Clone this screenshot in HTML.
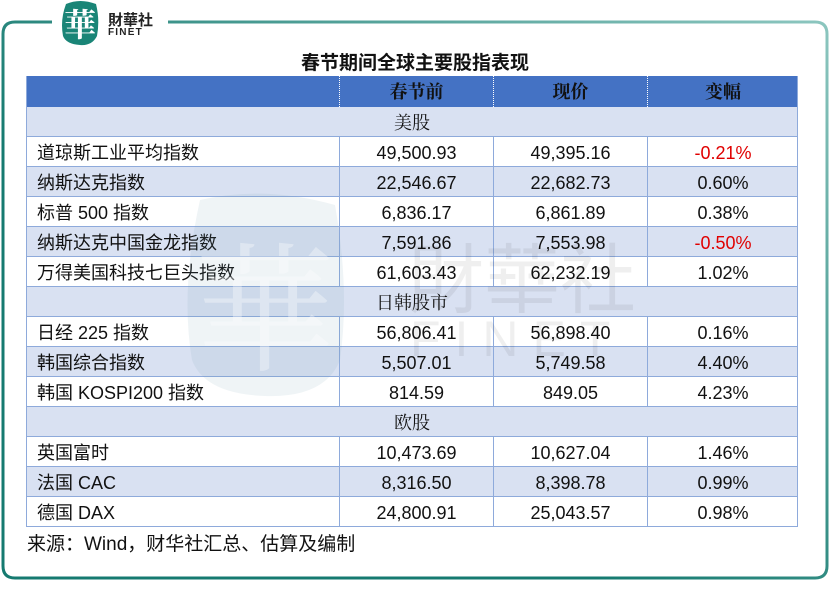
<!DOCTYPE html>
<html><head><meta charset="utf-8">
<style>
*{margin:0;padding:0;box-sizing:border-box}
body{width:830px;height:601px;background:#fff;position:relative;overflow:hidden;font-family:"Liberation Sans","Noto Sans CJK SC",sans-serif;color:#111}
.abs{position:absolute}
.title{left:0;width:830px;top:52px;text-align:center;font-size:19px;font-weight:bold;font-family:"Liberation Sans","Noto Sans CJK SC",sans-serif;line-height:24px}
.row{position:absolute;left:26px;width:772px;height:30px;border-bottom:1px solid #8eaadb}
.c{position:absolute;top:0;height:30px;line-height:32px;font-size:18px;text-align:center}
.c1{left:0;width:313px;text-align:left;padding-left:11px}
.c2{left:313px;width:154px;border-left:1px solid #8eaadb}
.c3{left:467px;width:154px;border-left:1px solid #8eaadb}
.c4{left:621px;width:151px;border-left:1px solid #8eaadb}
.blue{background:#d9e1f2}
.sec{text-align:center;font-family:"Liberation Serif","Noto Serif CJK SC",serif;font-size:18px;line-height:32px}
.red{color:#e00000}
</style></head><body>
<svg class="abs" style="left:0;top:0" width="830" height="601">
<defs>
<linearGradient id="g" x1="0.35" y1="0.6" x2="1" y2="0">
<stop offset="0" stop-color="#157a70"/>
<stop offset="1" stop-color="#8cc6bf"/>
</linearGradient>
</defs>
<path d="M52 22 L15 22 Q3 22 3 34 L3 566 Q3 578 15 578 L815 578 Q827 578 827 566 L827 34 Q827 22 815 22 L168 22" fill="none" stroke="url(#g)" stroke-width="3"/>
<path d="M66 4 Q80 -2 96 4 Q100 20 97 36 Q92 46 80 45 Q66 44 63 36 Q60 20 66 4Z" fill="#1a8577"/>
<text x="80" y="36" text-anchor="middle" font-family="Noto Serif CJK SC,serif" font-size="32" fill="#fff" font-weight="bold">華</text>
<text x="108" y="25" font-family="Noto Sans CJK TC,sans-serif" font-size="15" font-weight="bold" fill="#222">財華社</text>
<text x="108" y="35" font-family="Liberation Sans,sans-serif" font-size="10" font-weight="bold" fill="#222" letter-spacing="1.2">FINET</text>
</svg>

<div class="abs title">春节期间全球主要股指表现</div>

<div class="row" style="top:76px;height:31px;background:#4472c4;border-bottom:none">
<div class="c c1"></div>
<div class="c c2 sec" style="border-left:1px dotted #fff;font-weight:bold;height:31px;line-height:32px">春节前</div>
<div class="c c3 sec" style="border-left:1px dotted #fff;font-weight:bold;height:31px;line-height:32px">现价</div>
<div class="c c4 sec" style="border-left:1px dotted #fff;font-weight:bold;height:31px;line-height:32px">变幅</div>
</div>

<div class="row blue sec" style="top:107px">美股</div>
<div class="row" style="top:137px"><div class="c c1">道琼斯工业平均指数</div><div class="c c2">49,500.93</div><div class="c c3">49,395.16</div><div class="c c4 red">-0.21%</div></div>
<div class="row blue" style="top:167px"><div class="c c1">纳斯达克指数</div><div class="c c2">22,546.67</div><div class="c c3">22,682.73</div><div class="c c4">0.60%</div></div>
<div class="row" style="top:197px"><div class="c c1">标普 500 指数</div><div class="c c2">6,836.17</div><div class="c c3">6,861.89</div><div class="c c4">0.38%</div></div>
<div class="row blue" style="top:227px"><div class="c c1">纳斯达克中国金龙指数</div><div class="c c2">7,591.86</div><div class="c c3">7,553.98</div><div class="c c4 red">-0.50%</div></div>
<div class="row" style="top:257px"><div class="c c1">万得美国科技七巨头指数</div><div class="c c2">61,603.43</div><div class="c c3">62,232.19</div><div class="c c4">1.02%</div></div>
<div class="row blue sec" style="top:287px">日韩股市</div>
<div class="row" style="top:317px"><div class="c c1">日经 225 指数</div><div class="c c2">56,806.41</div><div class="c c3">56,898.40</div><div class="c c4">0.16%</div></div>
<div class="row blue" style="top:347px"><div class="c c1">韩国综合指数</div><div class="c c2">5,507.01</div><div class="c c3">5,749.58</div><div class="c c4">4.40%</div></div>
<div class="row" style="top:377px"><div class="c c1">韩国 KOSPI200 指数</div><div class="c c2">814.59</div><div class="c c3">849.05</div><div class="c c4">4.23%</div></div>
<div class="row blue sec" style="top:407px">欧股</div>
<div class="row" style="top:437px"><div class="c c1">英国富时</div><div class="c c2">10,473.69</div><div class="c c3">10,627.04</div><div class="c c4">1.46%</div></div>
<div class="row blue" style="top:467px"><div class="c c1">法国 CAC</div><div class="c c2">8,316.50</div><div class="c c3">8,398.78</div><div class="c c4">0.99%</div></div>
<div class="row" style="top:497px"><div class="c c1">德国 DAX</div><div class="c c2">24,800.91</div><div class="c c3">25,043.57</div><div class="c c4">0.98%</div></div>

<div class="abs" style="left:26px;top:76px;width:772px;height:451px;border-left:1px solid #8eaadb;border-right:1px solid #8eaadb;border-bottom:1px solid #8eaadb"></div>

<svg class="abs" style="left:0;top:0;pointer-events:none" width="830" height="601">
<path d="M200 200 Q265 185 335 205 Q350 290 340 360 Q325 398 265 396 Q205 394 192 360 Q180 290 200 200Z" fill="#6a9cb0" opacity="0.11"/>
<text x="265" y="360" text-anchor="middle" font-family="Noto Serif CJK SC,serif" font-size="140" fill="#fff" opacity="0.35">華</text>
<text x="408" y="307" font-family="Noto Sans CJK TC,sans-serif" font-size="76" fill="#000" opacity="0.06">財華社</text>
<text x="410" y="356" font-family="Liberation Sans,sans-serif" font-size="50" fill="#000" opacity="0.06" letter-spacing="14">FINET</text>
</svg>

<div class="abs" style="left:27px;top:532px;font-size:19px;line-height:26px">来源：Wind，财华社汇总、估算及编制</div>
</body></html>
